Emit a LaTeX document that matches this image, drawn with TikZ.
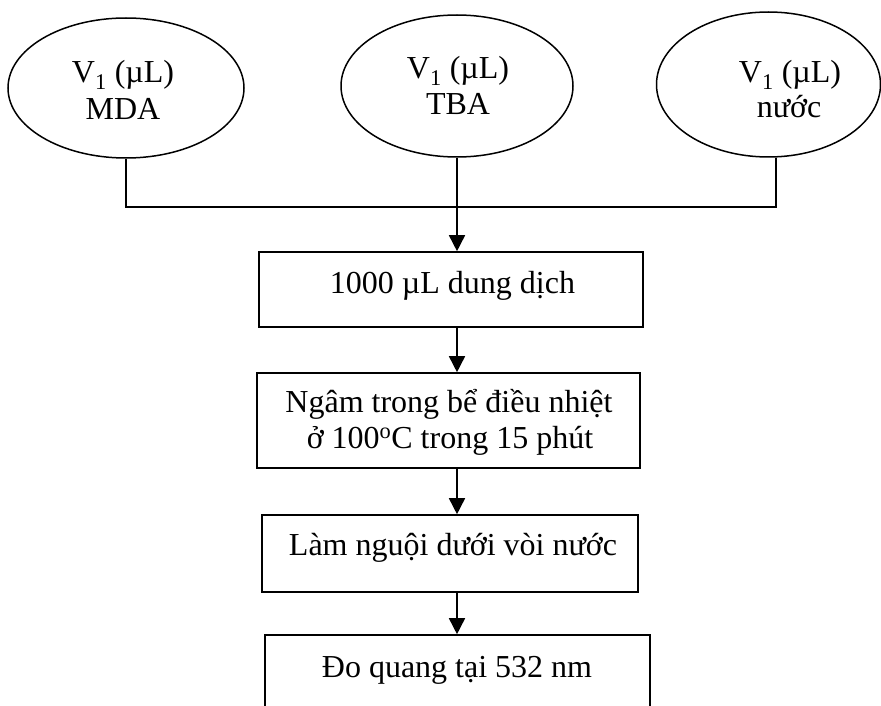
\documentclass[tikz,border=0pt]{standalone}
\usepackage{fontspec}
\setmainfont{Liberation Serif}
\usetikzlibrary{arrows.meta,shapes.geometric}
\begin{document}
\begin{tikzpicture}[x=1pt,y=-1pt,
  stroke/.style={line width=1.6pt},
  oval/.style={draw, ellipse, line width=1.5pt, inner sep=0pt},
  box/.style={draw, rectangle, line width=1.6pt, inner sep=0pt},
  lbl/.style={font=\fontsize{32}{37}\selectfont, anchor=base, inner sep=0pt},
  flow/.style={line width=1.6pt, -{Triangle[length=16pt,width=16pt]}}]
  % page frame
  \clip (0,0) rectangle (881,706);

  % reagent ovals
  \node[oval, minimum width=236pt, minimum height=140pt] (e1) at (126,88) {};
  \node[oval, minimum width=232pt, minimum height=142pt] (e2) at (457,86) {};
  \node[oval, minimum width=224pt, minimum height=145pt] (e3) at (768.5,84.5) {};
  \node[lbl] (e1a) at (123,83) {V\textsubscript{1} (µL)};
  \node[lbl] (e1b) at (123,120) {MDA};
  \node[lbl] (e2a) at (458,79) {V\textsubscript{1} (µL)};
  \node[lbl] (e2b) at (458,115) {TBA};
  \node[lbl] (e3a) at (790,83) {V\textsubscript{1} (µL)};
  \node[lbl] (e3b) at (789,118) {nước};

  % process steps
  \node[box, minimum width=384pt, minimum height=75pt] (b1) at (451,289.5) {};
  \node[box, minimum width=383pt, minimum height=95pt] (b2) at (448.5,420.5) {};
  \node[box, minimum width=376pt, minimum height=77pt] (b3) at (450,553.5) {};
  \node[box, minimum width=385pt, minimum height=78pt] (b4) at (457.5,674) {};
  \node[lbl] (t1) at (452.5,293) {1000 µL dung dịch};
  \node[lbl] (t2a) at (449,412) {Ngâm trong bể điều nhiệt};
  \node[lbl] (t2b) at (450,448) {ở 100\textsuperscript{o}C trong 15 phút};
  \node[lbl] (t3) at (453,555) {Làm nguội dưới vòi nước};
  \node[lbl] (t4) at (457,677) {Đo quang tại 532 nm};

  % collecting line
  \coordinate (j1) at (126,207);
  \coordinate (j3) at (776,207);
  \draw[stroke] (e1.south) -- (j1) -- (j3) -- (j3 |- e3.south);

  % flow arrows
  \draw[flow] (e2.south) -- (e2.south |- b1.north);
  \draw[flow] (b1.south -| e2.south) -- (b2.north -| e2.south);
  \draw[flow] (b2.south -| e2.south) -- (b3.north -| e2.south);
  \draw[flow] (b3.south -| e2.south) -- (b4.north -| e2.south);
\end{tikzpicture}
\end{document}
